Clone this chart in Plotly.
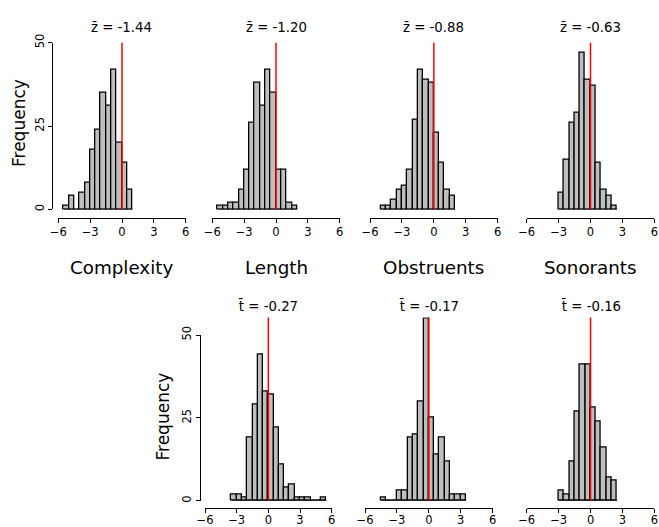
import plotly.graph_objects as go

W, H = 659, 527

# ---------------- data ----------------
BIN_WIDTH = 0.5
variables = ["Complexity", "Length", "Obstruents", "Sonorants"]

z_means = [-1.44, -1.20, -0.88, -0.63]
z_bin_starts = [-5.5, -5.5, -5.0, -3.0]
z_complexity = [1, 4, 0, 5, 8, 18, 24, 35, 31, 42, 20, 14, 6]
z_length = [1, 1, 2, 2, 6, 12, 26, 38, 31, 42, 35, 12, 12, 2, 1]
z_obstruents = [1, 1, 3, 6, 7, 12, 27, 42, 39, 38, 23, 14, 6, 4]
z_sonorants = [5, 15, 26, 29, 47, 39, 37, 14, 6, 4, 1]
z_counts = [z_complexity, z_length, z_obstruents, z_sonorants]

t_means = [-0.27, -0.17, -0.16]
t_bin_starts = [-3.5, -4.5, -3.0]
t_length = [2, 2, 1, 19, 29, 44, 33, 32, 22, 11, 4, 5, 1, 1, 1, 0, 0, 1]
t_obstruents = [1, 0, 0, 3, 3, 19, 20, 30, 55, 25, 14, 19, 12, 2, 2, 2]
t_sonorants = [3, 2, 12, 27, 41, 41, 28, 24, 16, 7, 6]
t_counts = [t_length, t_obstruents, t_sonorants]

reference_value = 0
x_ticks = [-6, -3, 0, 3, 6]
y_ticks = [0, 25, 50]
x_range = [-6, 6]
top_y_range = [0, 50]
bottom_y_range = [0, 55.3]

# ---------------- layout helpers ----------------
def fx(px):
    return px / W

def fy(py):
    return 1 - py / H

FONT = "DejaVu Sans"
LW = 1.3

top_x_px = [(58.3, 185.7), (212.3, 339.7), (370.0, 497.7), (526.7, 654.3)]
bot_x_px = [(205.0, 331.7), (365.0, 492.7), (526.7, 654.4)]
top_y_px = (209.4, 42.7)      # y=0 ... y=50
bot_y0 = 500.7
bot_scale = (500.7 - 335.0) / 50.0
bot_y_px = (bot_y0, bot_y0 - bottom_y_range[1] * bot_scale)
top_xaxis_line = 217.5
bot_xaxis_line = 508.0

fig = go.Figure()
layout = dict(width=W, height=H, margin=dict(l=0, r=0, t=0, b=0, pad=0, autoexpand=False),
              paper_bgcolor="white", plot_bgcolor="rgba(0,0,0,0)",
              showlegend=False, bargap=0, annotations=[], shapes=[])

panels = []
for i in range(4):
    panels.append(dict(counts=z_counts[i], start=z_bin_starts[i], xpx=top_x_px[i],
                       ypx=top_y_px, yr=top_y_range, axline=top_xaxis_line, standoff=0,
                       title="z\u0304 = %.2f" % z_means[i]))
for i in range(3):
    panels.append(dict(counts=t_counts[i], start=t_bin_starts[i], xpx=bot_x_px[i],
                       ypx=bot_y_px, yr=bottom_y_range, axline=bot_xaxis_line, standoff=-3,
                       title="t\u0304 = %.2f" % t_means[i]))

tickfont = dict(family=FONT, size=11.5, color="black")

for k, p in enumerate(panels, start=1):
    xa = "x" if k == 1 else "x%d" % k
    ya = "y" if k == 1 else "y%d" % k
    counts = p["counts"]
    edges = [p["start"] + j * BIN_WIDTH for j in range(len(counts) + 1)]
    centers = [(edges[j] + edges[j + 1]) / 2 for j in range(len(counts))]
    # baseline (shows zero-count bins like R's hist)
    fig.add_trace(go.Scatter(x=[edges[0], edges[-1]], y=[0, 0], mode="lines",
                             line=dict(color="black", width=LW), xaxis=xa, yaxis=ya,
                             hoverinfo="skip"))
    fig.add_trace(go.Bar(x=centers, y=counts, width=BIN_WIDTH, xaxis=xa, yaxis=ya,
                         marker=dict(color="#BEBEBE", line=dict(color="black", width=LW))))
    layout["xaxis" if k == 1 else "xaxis%d" % k] = dict(
        domain=[fx(p["xpx"][0]), fx(p["xpx"][1])], range=x_range, anchor="free",
        position=fy(p["axline"]), showline=True, linecolor="black", linewidth=LW,
        ticks="outside", ticklen=4, tickwidth=LW, tickcolor="black",
        ticklabelstandoff=p["standoff"],
        tickvals=x_ticks, ticktext=["\u2212%d" % abs(v) if v < 0 else str(v) for v in x_ticks],
        tickfont=tickfont, showgrid=False, zeroline=False, fixedrange=True, automargin=False)
    layout["yaxis" if k == 1 else "yaxis%d" % k] = dict(
        domain=[fy(p["ypx"][0]), fy(p["ypx"][1])], range=p["yr"], anchor=xa,
        visible=(k == 1), showline=True, linecolor="black", linewidth=LW,
        ticks="outside", ticklen=4, tickwidth=LW, tickcolor="black",
        tickvals=y_ticks, tickangle=-90, tickfont=tickfont,
        showgrid=False, zeroline=False, fixedrange=True, automargin=False)
    if k == 1:
        layout["yaxis"]["anchor"] = "free"
        layout["yaxis"]["position"] = fx(52.3)
    # red reference line
    layout["shapes"].append(dict(type="line", xref=xa, yref=ya + " domain",
                                 x0=reference_value, x1=reference_value, y0=-0.002, y1=1,
                                 line=dict(color="#FF0000", width=1.5), layer="above"))
    # panel title
    cx = (p["xpx"][0] + p["xpx"][1]) / 2
    ty = 27 if k <= 4 else 305.5
    layout["annotations"].append(dict(x=fx(cx), y=fy(ty), xref="paper", yref="paper",
                                      text=p["title"], showarrow=False, xanchor="center",
                                      yanchor="middle",
                                      font=dict(family=FONT, size=13.3, color="black")))

# visible y axis for bottom-left panel (0..50 only)
fig.add_trace(go.Scatter(x=[None], y=[None], xaxis="x5", yaxis="y8", hoverinfo="skip"))
layout["yaxis8"] = dict(domain=[fy(bot_y0), fy(335.0)], range=top_y_range, anchor="free",
                        position=fx(200.0), showline=True, linecolor="black", linewidth=LW,
                        ticks="outside", ticklen=4, tickwidth=LW, tickcolor="black",
                        tickvals=y_ticks, tickangle=-90, tickfont=tickfont,
                        showgrid=False, zeroline=False, fixedrange=True, automargin=False)

# column labels
for i, name in enumerate(variables):
    cx = (top_x_px[i][0] + top_x_px[i][1]) / 2
    layout["annotations"].append(dict(x=fx(cx), y=fy(267), xref="paper", yref="paper",
                                      text=name, showarrow=False, xanchor="center",
                                      yanchor="middle",
                                      font=dict(family=FONT, size=18.3, color="black")))

# Frequency labels
for (px, py) in [(19, 123), (162.5, 417)]:
    layout["annotations"].append(dict(x=fx(px), y=fy(py), xref="paper", yref="paper",
                                      text="Frequency", showarrow=False, textangle=-90,
                                      xanchor="center", yanchor="middle",
                                      font=dict(family=FONT, size=17, color="black")))

fig.update_layout(**layout)
fig.write_html("out.html", config={"displayModeBar": False},
               post_script="document.body.style.margin='0';document.body.style.overflow='hidden';")
